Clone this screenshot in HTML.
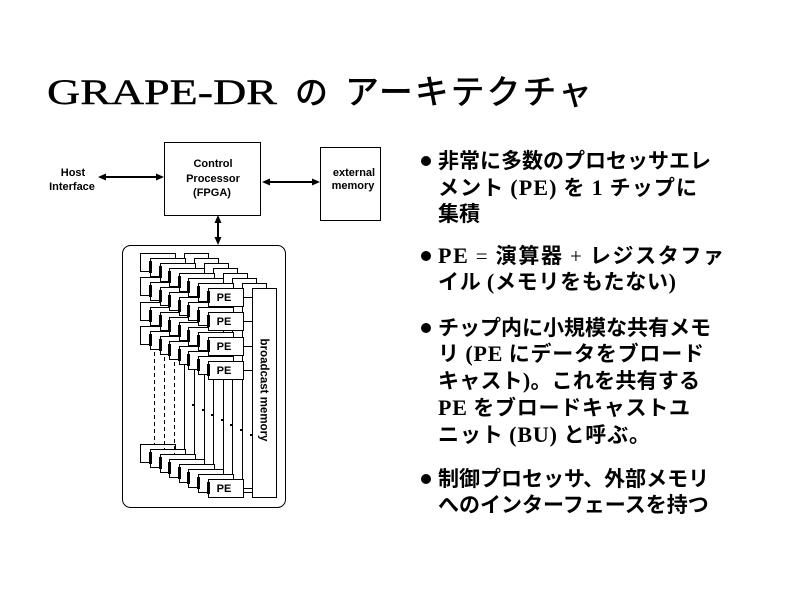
<!DOCTYPE html>
<html><head><meta charset="utf-8"><style>html,body{margin:0;padding:0;background:#fff}svg{display:block}</style></head>
<body>
<svg width="800" height="600" viewBox="0 0 800 600" xmlns="http://www.w3.org/2000/svg" xmlns:xlink="http://www.w3.org/1999/xlink">
<defs>
<g id="lay" fill="#fff" stroke="#000" stroke-width="1">
<rect x="44.5" y="0.5" width="24" height="209"/>
<path d="M35.5 9.5H44.5M35.5 33.5H44.5M35.5 58.5H44.5M35.5 82.5H44.5M35.5 200.5H44.5" fill="none"/>
<rect x="0.5" y="0.5" width="35" height="18"/>
<rect x="0.5" y="24.5" width="35" height="18"/>
<rect x="0.5" y="49.5" width="35" height="18"/>
<rect x="0.5" y="73.5" width="35" height="18"/>
<rect x="0.5" y="191.5" width="35" height="18"/>
</g>
<g id="mk" fill="#000">
<rect x="-1" y="3" width="3" height="12"/>
<rect x="-1" y="27" width="3" height="12"/>
<rect x="-1" y="52" width="3" height="12"/>
<rect x="-1" y="76" width="3" height="12"/>
<rect x="-1" y="194" width="3" height="12"/>
</g>
</defs>

<!-- Title -->
<text x="47" y="104" font-family="Liberation Serif, serif" font-size="36" textLength="230" lengthAdjust="spacingAndGlyphs" stroke="#000" stroke-width="0.4">GRAPE-DR</text>
<text x="295" y="104" font-family="Noto Sans CJK JP, sans-serif" font-weight="500" font-size="33">の</text>
<text x="345" y="104" font-family="Noto Sans CJK JP, sans-serif" font-weight="500" font-size="34" textLength="247">アーキテクチャ</text>

<!-- Top diagram -->
<g font-family="Liberation Sans, sans-serif" font-weight="bold" font-size="11" text-anchor="middle" fill="#000">
<text x="73" y="176">Host</text>
<text x="72" y="190">Interface</text>
<text x="213" y="167">Control</text>
<text x="213" y="182">Processor</text>
<text x="212" y="196">(FPGA)</text>
<text x="354" y="176">external</text>
<text x="353" y="189">memory</text>
</g>
<rect x="164.5" y="142.5" width="96" height="73" fill="none" stroke="#000"/>
<rect x="320.5" y="147.5" width="60" height="73" fill="none" stroke="#000"/>

<!-- arrows -->
<g stroke="#000" stroke-width="2">
<line x1="103" y1="177" x2="159" y2="177"/>
<line x1="268" y1="182" x2="314" y2="182"/>
<line x1="218" y1="220" x2="218" y2="240"/>
</g>
<g fill="#000">
<polygon points="98,177 106,173.5 106,180.5"/>
<polygon points="164,177 156,173.5 156,180.5"/>
<polygon points="262,182 270,178.5 270,185.5"/>
<polygon points="320,182 312,178.5 312,185.5"/>
<polygon points="218,215 214.5,223 221.5,223"/>
<polygon points="218,245 214.5,237 221.5,237"/>
</g>

<!-- Frame -->
<rect x="122.5" y="245.5" width="163" height="262" rx="8" ry="8" fill="none" stroke="#000"/>

<!-- Layers -->
<use xlink:href="#lay" x="140" y="253"/>
<line x1="154.5" y1="345" x2="154.5" y2="444" stroke="#000" stroke-dasharray="4,3"/>

<use xlink:href="#lay" x="150" y="258"/>
<use xlink:href="#mk" x="150" y="258"/>
<line x1="164.5" y1="350" x2="164.5" y2="449" stroke="#000" stroke-dasharray="4,3"/>
<rect x="192" y="404" width="2" height="2" fill="#000"/>

<use xlink:href="#lay" x="160" y="263"/>
<use xlink:href="#mk" x="160" y="263"/>
<line x1="174.5" y1="355" x2="174.5" y2="454" stroke="#000" stroke-dasharray="4,3"/>
<rect x="202" y="409" width="2" height="2" fill="#000"/>

<use xlink:href="#lay" x="169" y="268"/>
<use xlink:href="#mk" x="169" y="268"/>
<rect x="211" y="414" width="2" height="2" fill="#000"/>

<use xlink:href="#lay" x="179" y="273"/>
<use xlink:href="#mk" x="179" y="273"/>
<rect x="221" y="419" width="2" height="2" fill="#000"/>

<use xlink:href="#lay" x="188" y="278"/>
<use xlink:href="#mk" x="188" y="278"/>
<rect x="230" y="424" width="2" height="2" fill="#000"/>

<use xlink:href="#lay" x="198" y="283"/>
<use xlink:href="#mk" x="198" y="283"/>
<rect x="240" y="429" width="2" height="2" fill="#000"/>

<use xlink:href="#lay" x="208" y="288"/>
<use xlink:href="#mk" x="208" y="288"/>
<rect x="250" y="434" width="2" height="2" fill="#000"/>

<g font-family="Liberation Sans, sans-serif" font-weight="bold" font-size="11" text-anchor="middle" fill="#000">
<text x="224" y="301">PE</text>
<text x="224" y="325">PE</text>
<text x="224" y="350">PE</text>
<text x="224" y="374">PE</text>
<text x="224" y="492">PE</text>
<text transform="translate(264.5,390) rotate(90)" x="0" y="4" font-size="11.5">broadcast memory</text>
</g>

<!-- Bullets -->
<g fill="#000">
<circle cx="426" cy="161" r="5"/>
<circle cx="426" cy="256" r="5"/>
<circle cx="426" cy="328" r="5"/>
<circle cx="426" cy="479" r="5"/>
</g>
<g font-family="Noto Sans CJK JP, sans-serif" font-weight="bold" font-size="21" fill="#000">
<text x="438" y="168">非常に多数のプロセッサエレ</text>
<text x="438" y="195" textLength="259">メント <tspan font-family="Liberation Serif, serif" font-size="22">(PE)</tspan> を <tspan font-family="Liberation Serif, serif" font-size="22">1</tspan> チップに</text>
<text x="438" y="221">集積</text>

<text x="438" y="263" textLength="286"><tspan font-family="Liberation Serif, serif" font-size="22">PE</tspan> <tspan font-family="Liberation Serif, serif" font-weight="normal">=</tspan> 演算器 <tspan font-family="Liberation Serif, serif" font-weight="normal">+</tspan> レジスタファ</text>
<text x="438" y="289" textLength="238">イル <tspan font-family="Liberation Serif, serif" font-size="22">(</tspan>メモリをもたない<tspan font-family="Liberation Serif, serif" font-size="22">)</tspan></text>

<text x="438" y="335">チップ内に小規模な共有メモ</text>
<text x="438" y="361" textLength="266">リ <tspan font-family="Liberation Serif, serif" font-size="22">(PE</tspan> にデータをブロード</text>
<text x="438" y="388" textLength="262">キャスト<tspan font-family="Liberation Serif, serif" font-size="22">)</tspan>。これを共有する</text>
<text x="438" y="415" textLength="252"><tspan font-family="Liberation Serif, serif" font-size="22">PE</tspan> をブロードキャストユ</text>
<text x="438" y="442" textLength="212">ニット <tspan font-family="Liberation Serif, serif" font-size="22">(BU)</tspan> と呼ぶ。</text>

<text x="438" y="486">制御プロセッサ、外部メモリ</text>
<text x="438" y="512">へのインターフェースを持つ</text>
</g>
</svg>
</body></html>
